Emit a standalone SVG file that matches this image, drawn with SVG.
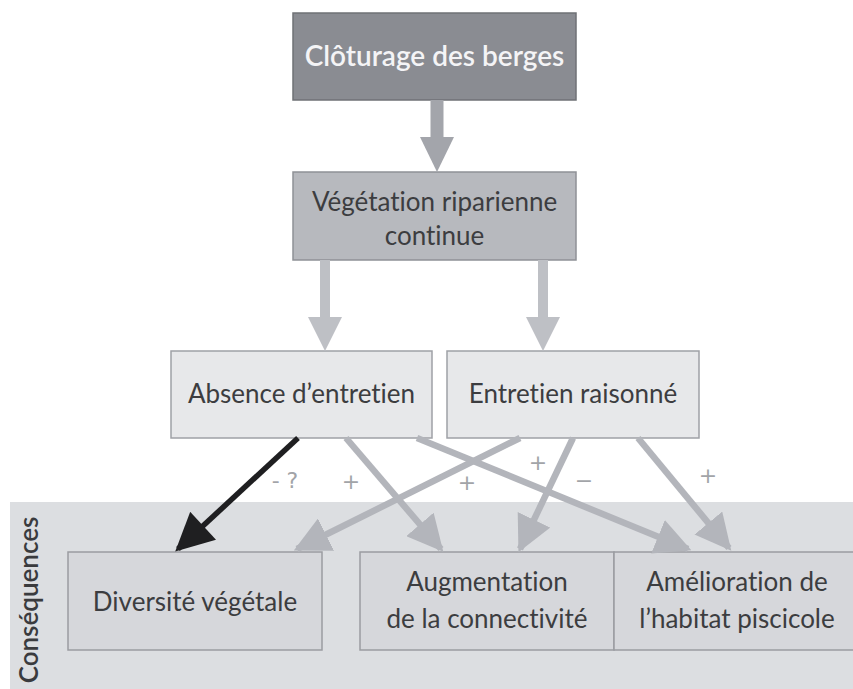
<svg xmlns="http://www.w3.org/2000/svg" width="853" height="689" viewBox="0 0 853 689">
<defs>
<style>
text{font-family:Lato,"Open Sans","Liberation Sans",sans-serif;text-anchor:middle;font-variant-ligatures:none}
.t{font-size:26px;fill:#3c3d40}
.w{font-size:28px;fill:#f4f4f6;font-weight:600}
.lab{font-family:"DejaVu Sans",sans-serif;font-size:22px;fill:#a2a4a8}
.g{stroke:#b3b5bb;stroke-width:6.5;fill:none}
.k{stroke:#1f1f21;stroke-width:5.5;fill:none}
</style>
<marker id="hg" viewBox="0 0 10 10" refX="9" refY="5" markerUnits="userSpaceOnUse" markerWidth="36" markerHeight="36" orient="auto"><path d="M0,0 L10,5 L0,10 Z" fill="#b3b5bb"/></marker>
<marker id="hk" viewBox="0 0 10 10" refX="9" refY="5" markerUnits="userSpaceOnUse" markerWidth="40" markerHeight="38" orient="auto"><path d="M0,0 L10,5 L0,10 Z" fill="#1f1f21"/></marker>
</defs>
<rect width="853" height="689" fill="#ffffff"/>
<g id="panel">
<rect x="10" y="502" width="843" height="187" fill="#dcdee1"/>
<text transform="translate(38,600) rotate(-90)" style="font-size:26px;fill:#3a3b3e;font-weight:600">Conséquences</text>
</g>
<g id="n1"><rect x="293" y="13" width="283" height="87" fill="#8a8c92" stroke="#6f7176" stroke-width="1.5"/><text class="w" x="434.5" y="66">Clôturage des berges</text></g>
<g id="n2"><rect x="293" y="172" width="283" height="88" fill="#b7b9be" stroke="#8f9196" stroke-width="1.5"/><text class="t" x="434.5" y="211">Végétation riparienne</text><text class="t" x="434.5" y="245">continue</text></g>
<g id="n3"><rect x="171" y="351" width="261" height="87" fill="#e7e8ea" stroke="#9fa1a6" stroke-width="1.5"/><text class="t" x="301.5" y="403">Absence d’entretien</text></g>
<g id="n4"><rect x="447" y="351" width="252" height="87" fill="#e7e8ea" stroke="#9fa1a6" stroke-width="1.5"/><text class="t" x="573" y="403">Entretien raisonné</text></g>
<g id="n5"><rect x="68" y="552" width="254" height="98" fill="#d6d7db" stroke="#9a9ca1" stroke-width="1.5"/><text class="t" x="195" y="611">Diversité végétale</text></g>
<g id="n6"><rect x="360" y="552" width="254" height="98" fill="#d6d7db" stroke="#9a9ca1" stroke-width="1.5"/><text class="t" x="487" y="591">Augmentation</text><text class="t" x="487" y="628">de la connectivité</text></g>
<g id="n7"><rect x="614" y="552" width="245" height="98" fill="#d6d7db" stroke="#9a9ca1" stroke-width="1.5"/><text class="t" x="737" y="591">Amélioration de</text><text class="t" x="737" y="628">l’habitat piscicole</text></g>
<g id="connectors">
<path d="M437,100 V140" stroke="#a3a5ab" stroke-width="13"/><path d="M420,137 L454,137 L437,172 Z" fill="#a3a5ab"/>
<path d="M325,260 V320" stroke="#bec0c5" stroke-width="10"/><path d="M308,317 L342,317 L325,351 Z" fill="#bec0c5"/>
<path d="M543,260 V320" stroke="#bec0c5" stroke-width="10"/><path d="M526,317 L560,317 L543,351 Z" fill="#bec0c5"/>
<path class="g" d="M417,438 L688,549" marker-end="url(#hg)"/>
<path class="g" d="M520,438 L297,549" marker-end="url(#hg)"/>
<path class="g" d="M346,438 L441,549" marker-end="url(#hg)"/>
<path class="g" d="M573,438 L520,549" marker-end="url(#hg)"/>
<path class="g" d="M638,438 L729,548" marker-end="url(#hg)"/>
<path class="k" d="M298,438 L178,549" marker-end="url(#hk)"/>
<text class="lab" x="285" y="488">- ?</text>
<text class="lab" x="351" y="489">+</text>
<text class="lab" x="467" y="490">+</text>
<text class="lab" x="538" y="470">+</text>
<text class="lab" x="584" y="488">−</text>
<text class="lab" x="708" y="483">+</text>
</g>
</svg>
